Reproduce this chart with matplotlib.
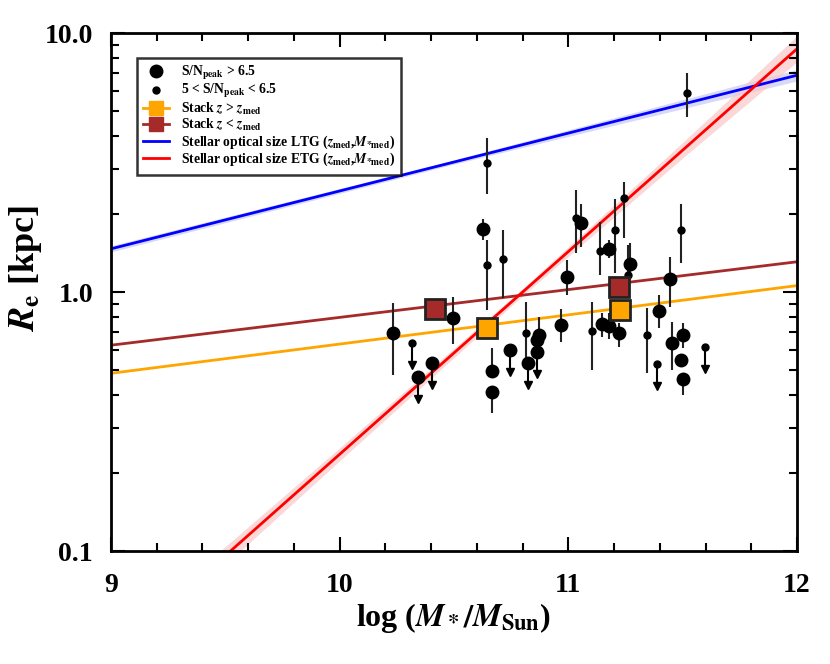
import numpy as np
import matplotlib
matplotlib.use('Agg')
import matplotlib.pyplot as plt
from matplotlib.lines import Line2D
from matplotlib.ticker import MultipleLocator, LogLocator, NullFormatter, FixedLocator, FixedFormatter

plt.rcParams['font.family'] = ['Liberation Serif', 'DejaVu Serif']
plt.rcParams['font.weight'] = 'bold'
plt.rcParams['axes.labelweight'] = 'bold'
plt.rcParams['mathtext.fontset'] = 'stix'

# S/N_peak > 6.5 detections (log M*, Re in kpc, error bar top / bottom)
logm_big = [10.232, 10.497, 10.625, 10.666, 10.666, 10.966, 10.995, 11.054, 11.178, 11.269,
            11.146, 11.178, 11.223, 11.397, 11.444, 11.454, 11.500, 11.491, 11.500, 10.873, 10.861]
re_big = [0.693, 0.798, 1.746, 0.497, 0.411, 0.748, 1.140, 1.842, 1.462, 1.283,
          0.752, 0.739, 0.696, 0.847, 1.122, 0.634, 0.681, 0.546, 0.464, 0.682, 0.653]
re_big_top = [0.905, 0.959, 1.913, 0.608, 0.411, 0.860, 1.329, 2.187, 1.587, 1.542,
              0.830, 0.830, 0.759, 0.974, 1.369, 0.768, 0.757, 0.546, 0.464, 0.803, 0.653]
re_big_bot = [0.478, 0.630, 1.588, 0.497, 0.341, 0.643, 0.974, 1.496, 1.353, 1.112,
              0.672, 0.658, 0.612, 0.724, 0.877, 0.500, 0.606, 0.546, 0.400, 0.682, 0.653]

# S/N_peak > 6.5 upper limits
logm_big_ul = [10.344, 10.405, 10.745, 10.822, 10.861]
re_big_ul = [0.469, 0.535, 0.597, 0.531, 0.588]

# 5 < S/N_peak < 6.5 detections
logm_small = [10.645, 10.645, 10.715, 10.813, 11.033, 11.138, 11.205, 11.242, 11.262,
              11.102, 11.345, 11.491, 11.520]
re_small = [3.157, 1.275, 1.341, 0.696, 1.936, 1.440, 1.731, 2.306, 1.163,
            0.709, 0.681, 1.735, 5.88]
re_small_top = [3.922, 1.588, 1.735, 0.917, 2.476, 1.867, 2.286, 2.659, 1.518,
                0.917, 0.868, 2.187, 7.03]
re_small_bot = [2.389, 0.852, 0.948, 0.523, 1.411, 1.163, 1.181, 1.612, 1.018,
                0.500, 0.486, 1.291, 4.75]

# 5 < S/N_peak < 6.5 upper limits
logm_small_ul = [10.315, 11.389, 11.600]
re_small_ul = [0.634, 0.527, 0.612]

# stacks
logm_stack_hiz = [10.645, 11.225]
re_stack_hiz = [0.727, 0.852]
logm_stack_loz = [10.415, 11.22]
re_stack_loz = [0.86, 1.05]

# relations, values at logM = 9 and 12
logm_ends = [9.0, 12.0]
re_line_hiz = [0.486, 1.06]
re_line_loz = [0.624, 1.31]
re_ltg = [1.47, 6.88]
re_etg = [0.039, 8.7]

# half widths (dex) of the shaded uncertainty bands
band_x_ltg = [9.0, 10.5, 12.0]
band_w_ltg = [0.012, 0.008, 0.022]
band_x_etg = [9.0, 10.0, 10.8, 11.5, 12.0]
band_w_etg = [0.045, 0.025, 0.014, 0.03, 0.05]


def line_at(xs, ends):
    # straight line in log(Re) between the two end values
    lo, hi = np.log10(ends)
    return 10 ** (lo + (hi - lo) * (np.array(xs) - logm_ends[0]) / (logm_ends[1] - logm_ends[0]))


fig = plt.figure(figsize=(8.3, 6.64), dpi=100)
ax = fig.add_axes([0.1337, 0.170, 0.8265, 0.780])
ax.set_yscale('log')

# bands
for bx, bw, ends, col in [(band_x_ltg, band_w_ltg, re_ltg, '#c8c8f5'),
                          (band_x_etg, band_w_etg, re_etg, '#f8c8c8')]:
    mid = line_at(bx, ends)
    ax.fill_between(bx, mid * 10 ** -np.array(bw), mid * 10 ** np.array(bw),
                    color=col, alpha=0.7, lw=0, zorder=1)

ax.plot(logm_ends, re_line_hiz, color='orange', lw=2, zorder=2)
ax.plot(logm_ends, re_line_loz, color='#a52a2a', lw=2, zorder=2)
ax.plot(logm_ends, re_ltg, color='blue', lw=2, zorder=2)
ax.plot(logm_ends, re_etg, color='red', lw=2, zorder=2)

# error bars
ax.vlines(logm_big, re_big_bot, re_big_top, color='#222222', lw=1.5, zorder=3)
ax.vlines(logm_small, re_small_bot, re_small_top, color='#222222', lw=1.5, zorder=3)
ax.plot(logm_big, re_big, 'o', color='black', ms=9, zorder=4)
ax.plot(logm_small, re_small, 'o', color='black', ms=5, zorder=4)

# upper limits: arrow pointing down
arrow_dex = 0.085
for xs, ys, ms in [(logm_big_ul, re_big_ul, 9), (logm_small_ul, re_small_ul, 5)]:
    ys = np.array(ys)
    ax.vlines(xs, ys * 10 ** -arrow_dex, ys, color='black', lw=1.5, zorder=3)
    ax.plot(xs, ys * 10 ** -arrow_dex, 'v', color='black', ms=6, zorder=4)
    ax.plot(xs, ys, 'o', color='black', ms=ms, zorder=4)

ax.plot(logm_stack_hiz, re_stack_hiz, 's', color='orange', mec='#222222', mew=2, ms=14, zorder=5)
ax.plot(logm_stack_loz, re_stack_loz, 's', color='#a52a2a', mec='#222222', mew=2, ms=14, zorder=5)

ax.set_xlim(9, 12)
ax.set_ylim(0.1, 10)

ax.xaxis.set_major_locator(FixedLocator([9, 10, 11, 12]))
ax.xaxis.set_minor_locator(MultipleLocator(0.2))
ax.yaxis.set_major_locator(FixedLocator([0.1, 1.0, 10.0]))
ax.yaxis.set_major_formatter(FixedFormatter(['0.1', '1.0', '10.0']))
ax.yaxis.set_minor_locator(LogLocator(base=10, subs=np.arange(2, 10)))
ax.yaxis.set_minor_formatter(NullFormatter())
ax.tick_params(which='both', direction='in', top=True, right=True, width=1.5)
ax.tick_params(which='major', length=10, labelsize=20, pad=13)
ax.tick_params(axis='x', which='major', pad=16)
ax.tick_params(which='minor', length=6)
for s in ax.spines.values():
    s.set_linewidth(2)

ax.set_xlabel(r'log ($M_*/M_{\mathbf{Sun}}$)', fontsize=23, labelpad=2)
ax.set_ylabel(r'$R_{\rm e}$ [kpc]', fontsize=26)
ax.yaxis.set_label_coords(-0.097, 0.545)

handles = [
    Line2D([], [], ls='none', marker='o', color='black', ms=9),
    Line2D([], [], ls='none', marker='o', color='black', ms=5),
    Line2D([], [], color='orange', marker='s', ms=10, lw=2),
    Line2D([], [], color='#a52a2a', marker='s', ms=10, lw=2),
    Line2D([], [], color='blue', lw=2),
    Line2D([], [], color='red', lw=2),
]
labels = [
    r'S/N$_{\mathbf{peak}}$ > 6.5',
    r'5 < S/N$_{\mathbf{peak}}$ < 6.5',
    r'Stack $z$ > $z_{\mathrm{med}}$',
    r'Stack $z$ < $z_{\mathrm{med}}$',
    r'Stellar optical size LTG ($z_{\mathrm{med}}$,$M_{*\mathrm{med}}$)',
    r'Stellar optical size ETG ($z_{\mathrm{med}}$,$M_{*\mathrm{med}}$)',
]
leg = ax.legend(handles, labels, loc='upper left', bbox_to_anchor=(0.038, 0.952),
                fontsize=9.8, frameon=True, fancybox=False, edgecolor='black',
                handlelength=1.9, labelspacing=0.02, borderpad=0.45, handletextpad=0.9,
                borderaxespad=0)
leg.get_frame().set_linewidth(1.8)

fig.savefig('out.png', dpi=100)
